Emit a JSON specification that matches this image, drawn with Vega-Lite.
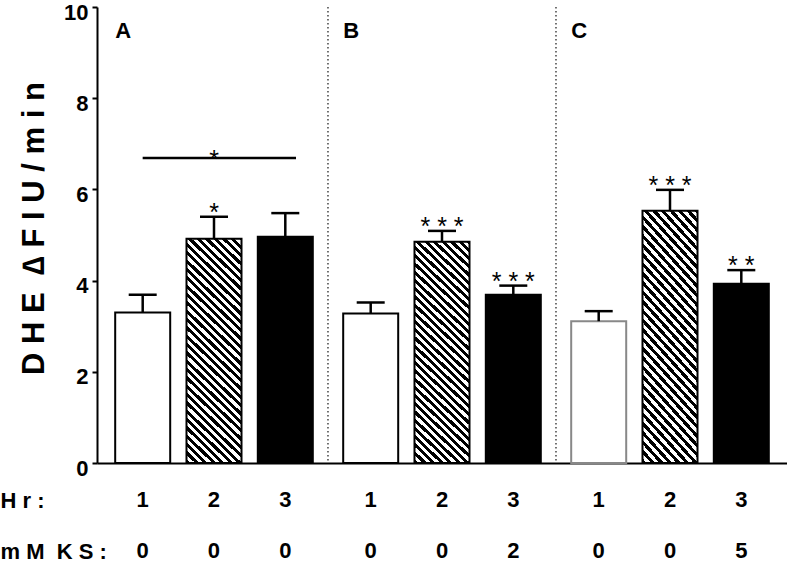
{
  "$schema": "https://vega.github.io/schema/vega-lite/v6.json",
  "width": 690,
  "height": 456,
  "autosize": "none",
  "padding": {"left": 97, "top": 7, "right": 0, "bottom": 101},
  "config": {"view": {"stroke": null}, "font": "Liberation Sans", "axis": {"grid": false}},
  "datasets": {
    "bars": [
      {"panel": "A", "hr": 1, "ks": 0, "mean": 3.30, "upper": 3.69, "sig": ""},
      {"panel": "A", "hr": 2, "ks": 0, "mean": 4.92, "upper": 5.40, "sig": "*"},
      {"panel": "A", "hr": 3, "ks": 0, "mean": 4.96, "upper": 5.48, "sig": ""},
      {"panel": "B", "hr": 1, "ks": 0, "mean": 3.28, "upper": 3.52, "sig": ""},
      {"panel": "B", "hr": 2, "ks": 0, "mean": 4.85, "upper": 5.09, "sig": "* * *"},
      {"panel": "B", "hr": 3, "ks": 2, "mean": 3.69, "upper": 3.89, "sig": "* * *"},
      {"panel": "C", "hr": 1, "ks": 0, "mean": 3.11, "upper": 3.33, "sig": ""},
      {"panel": "C", "hr": 2, "ks": 0, "mean": 5.53, "upper": 5.99, "sig": "* * *"},
      {"panel": "C", "hr": 3, "ks": 5, "mean": 3.93, "upper": 4.23, "sig": "* *"}
    ],
    "sep": [{"panel": "B"}, {"panel": "C"}],
    "bracket": [{"panel": "A", "level": 6.69, "sig": "*"}]
  },
  "encoding": {
    "x": {
      "field": "panel", "type": "nominal",
      "scale": {"paddingInner": 0.1333, "paddingOuter": 0.0798},
      "axis": {
        "title": ["H r :", "m M \u00a0K S :"],
        "labels": false, "ticks": false,
        "domainColor": "#000", "domainWidth": 2,
        "titleFont": "Liberation Sans", "titleFontSize": 22, "titleFontWeight": "bold", "titleColor": "#000",
        "titleX": -97, "titleY": 44, "titleAlign": "left", "titleAnchor": "start", "titleBaseline": "alphabetic", "titleLineHeight": 51
      }
    },
    "y": {
      "field": "mean", "type": "quantitative",
      "scale": {"domain": [0, 10], "nice": false},
      "axis": {
        "title": "D H E \u00a0∆ F I U / m i n",
        "values": [0, 2, 4, 6, 8, 10],
        "domainColor": "#000", "domainWidth": 2,
        "tickColor": "#000", "tickWidth": 2, "tickSize": 5,
        "labelFont": "Liberation Sans", "labelFontSize": 22, "labelFontWeight": "bold", "labelColor": "#000",
        "labelPadding": 4, "labelOffset": 5, "labelOverlap": false,
        "titleFont": "Liberation Sans", "titleFontSize": 31, "titleFontWeight": "bold", "titleColor": "#000",
        "titleX": -63, "titleY": 221, "titleAngle": -90, "titleBaseline": "middle", "titleAlign": "center"
      }
    }
  },
  "layer": [
    {
      "data": {"name": "sep"},
      "mark": {"type": "rule", "color": "#444", "strokeWidth": 1.5, "strokeDash": [1.5, 2.5]},
      "encoding": {"x": {"field": "panel", "type": "nominal", "bandPosition": -0.077}, "y": null}
    },
    {
      "data": {"name": "bars"},
      "transform": [{"filter": "datum.hr != 2"}],
      "mark": {"type": "bar", "strokeWidth": 2},
      "encoding": {
        "xOffset": {"field": "hr", "type": "ordinal", "scale": {"paddingInner": 0.2286, "paddingOuter": 0}},
        "fill": {"condition": {"test": "datum.hr == 1", "value": "#ffffff"}, "value": "#000000"},
        "stroke": {"condition": {"test": "datum.panel == 'C' && datum.hr == 1", "value": "#888888"}, "value": "#000000"}
      }
    },
    {
      "data": {"name": "bars"},
      "transform": [{"filter": "datum.hr == 2"}],
      "mark": {
        "type": "bar", "stroke": "#000", "strokeWidth": 2,
        "fill": {
          "gradient": "linear", "x1": 0, "y1": 1, "x2": 0.2803, "y2": -0.1721,
          "stops": [
            {"offset": 0, "color": "#000"},
            {"offset": 0.015, "color": "#000"}, {"offset": 0.015, "color": "#fff"},
            {"offset": 0.03, "color": "#fff"}, {"offset": 0.03, "color": "#000"},
            {"offset": 0.045, "color": "#000"}, {"offset": 0.045, "color": "#fff"},
            {"offset": 0.06, "color": "#fff"}, {"offset": 0.06, "color": "#000"},
            {"offset": 0.075, "color": "#000"}, {"offset": 0.075, "color": "#fff"},
            {"offset": 0.09, "color": "#fff"}, {"offset": 0.09, "color": "#000"},
            {"offset": 0.105, "color": "#000"}, {"offset": 0.105, "color": "#fff"},
            {"offset": 0.12, "color": "#fff"}, {"offset": 0.12, "color": "#000"},
            {"offset": 0.135, "color": "#000"}, {"offset": 0.135, "color": "#fff"},
            {"offset": 0.15, "color": "#fff"}, {"offset": 0.15, "color": "#000"},
            {"offset": 0.165, "color": "#000"}, {"offset": 0.165, "color": "#fff"},
            {"offset": 0.18, "color": "#fff"}, {"offset": 0.18, "color": "#000"},
            {"offset": 0.195, "color": "#000"}, {"offset": 0.195, "color": "#fff"},
            {"offset": 0.21, "color": "#fff"}, {"offset": 0.21, "color": "#000"},
            {"offset": 0.225, "color": "#000"}, {"offset": 0.225, "color": "#fff"},
            {"offset": 0.24, "color": "#fff"}, {"offset": 0.24, "color": "#000"},
            {"offset": 0.255, "color": "#000"}, {"offset": 0.255, "color": "#fff"},
            {"offset": 0.27, "color": "#fff"}, {"offset": 0.27, "color": "#000"},
            {"offset": 0.285, "color": "#000"}, {"offset": 0.285, "color": "#fff"},
            {"offset": 0.3, "color": "#fff"}, {"offset": 0.3, "color": "#000"},
            {"offset": 0.315, "color": "#000"}, {"offset": 0.315, "color": "#fff"},
            {"offset": 0.33, "color": "#fff"}, {"offset": 0.33, "color": "#000"},
            {"offset": 0.345, "color": "#000"}, {"offset": 0.345, "color": "#fff"},
            {"offset": 0.36, "color": "#fff"}, {"offset": 0.36, "color": "#000"},
            {"offset": 0.375, "color": "#000"}, {"offset": 0.375, "color": "#fff"},
            {"offset": 0.39, "color": "#fff"}, {"offset": 0.39, "color": "#000"},
            {"offset": 0.405, "color": "#000"}, {"offset": 0.405, "color": "#fff"},
            {"offset": 0.42, "color": "#fff"}, {"offset": 0.42, "color": "#000"},
            {"offset": 0.435, "color": "#000"}, {"offset": 0.435, "color": "#fff"},
            {"offset": 0.45, "color": "#fff"}, {"offset": 0.45, "color": "#000"},
            {"offset": 0.465, "color": "#000"}, {"offset": 0.465, "color": "#fff"},
            {"offset": 0.48, "color": "#fff"}, {"offset": 0.48, "color": "#000"},
            {"offset": 0.495, "color": "#000"}, {"offset": 0.495, "color": "#fff"},
            {"offset": 0.51, "color": "#fff"}, {"offset": 0.51, "color": "#000"},
            {"offset": 0.525, "color": "#000"}, {"offset": 0.525, "color": "#fff"},
            {"offset": 0.54, "color": "#fff"}, {"offset": 0.54, "color": "#000"},
            {"offset": 0.555, "color": "#000"}, {"offset": 0.555, "color": "#fff"},
            {"offset": 0.57, "color": "#fff"}, {"offset": 0.57, "color": "#000"},
            {"offset": 0.585, "color": "#000"}, {"offset": 0.585, "color": "#fff"},
            {"offset": 0.6, "color": "#fff"}, {"offset": 0.6, "color": "#000"},
            {"offset": 0.615, "color": "#000"}, {"offset": 0.615, "color": "#fff"},
            {"offset": 0.63, "color": "#fff"}, {"offset": 0.63, "color": "#000"},
            {"offset": 0.645, "color": "#000"}, {"offset": 0.645, "color": "#fff"},
            {"offset": 0.66, "color": "#fff"}, {"offset": 0.66, "color": "#000"},
            {"offset": 0.675, "color": "#000"}, {"offset": 0.675, "color": "#fff"},
            {"offset": 0.69, "color": "#fff"}, {"offset": 0.69, "color": "#000"},
            {"offset": 0.705, "color": "#000"}, {"offset": 0.705, "color": "#fff"},
            {"offset": 0.72, "color": "#fff"}, {"offset": 0.72, "color": "#000"},
            {"offset": 0.735, "color": "#000"}, {"offset": 0.735, "color": "#fff"},
            {"offset": 0.75, "color": "#fff"}, {"offset": 0.75, "color": "#000"},
            {"offset": 0.765, "color": "#000"}, {"offset": 0.765, "color": "#fff"},
            {"offset": 0.78, "color": "#fff"}, {"offset": 0.78, "color": "#000"},
            {"offset": 0.795, "color": "#000"}, {"offset": 0.795, "color": "#fff"},
            {"offset": 0.81, "color": "#fff"}, {"offset": 0.81, "color": "#000"},
            {"offset": 0.825, "color": "#000"}, {"offset": 0.825, "color": "#fff"},
            {"offset": 0.84, "color": "#fff"}, {"offset": 0.84, "color": "#000"},
            {"offset": 0.855, "color": "#000"}, {"offset": 0.855, "color": "#fff"},
            {"offset": 0.87, "color": "#fff"}, {"offset": 0.87, "color": "#000"},
            {"offset": 0.885, "color": "#000"}, {"offset": 0.885, "color": "#fff"},
            {"offset": 0.9, "color": "#fff"}, {"offset": 0.9, "color": "#000"},
            {"offset": 0.915, "color": "#000"}, {"offset": 0.915, "color": "#fff"},
            {"offset": 0.93, "color": "#fff"}, {"offset": 0.93, "color": "#000"},
            {"offset": 0.945, "color": "#000"}, {"offset": 0.945, "color": "#fff"},
            {"offset": 0.96, "color": "#fff"}, {"offset": 0.96, "color": "#000"},
            {"offset": 0.975, "color": "#000"}, {"offset": 0.975, "color": "#fff"},
            {"offset": 0.99, "color": "#fff"}, {"offset": 0.99, "color": "#000"},
            {"offset": 1, "color": "#000"}
          ]
        }
      },
      "encoding": {
        "xOffset": {"field": "hr", "type": "ordinal"}
      }
    },
    {
      "data": {"name": "bars"},
      "mark": {"type": "rule", "color": "#000", "strokeWidth": 2.5},
      "encoding": {
        "xOffset": {"field": "hr", "type": "ordinal"},
        "y": {"field": "mean", "type": "quantitative"},
        "y2": {"field": "upper"}
      }
    },
    {
      "data": {"name": "bars"},
      "mark": {"type": "tick", "orient": "horizontal", "size": 28, "thickness": 2.5, "color": "#000", "opacity": 1},
      "encoding": {
        "xOffset": {"field": "hr", "type": "ordinal"},
        "y": {"field": "upper", "type": "quantitative"}
      }
    },
    {
      "data": {"name": "bars"},
      "mark": {"type": "text", "fontSize": 25, "baseline": "alphabetic", "dy": 4, "color": "#000", "font": "Liberation Sans"},
      "encoding": {
        "xOffset": {"field": "hr", "type": "ordinal"},
        "y": {"field": "upper", "type": "quantitative"},
        "text": {"field": "sig", "type": "nominal"}
      }
    },
    {
      "data": {"name": "bars"},
      "transform": [{"filter": "datum.hr == 1"}],
      "mark": {"type": "text", "fontSize": 22, "fontWeight": "bold", "align": "left", "baseline": "middle", "color": "#000", "font": "Liberation Sans"},
      "encoding": {
        "x": {"field": "panel", "type": "nominal", "bandPosition": 0},
        "y": {"datum": 9.48},
        "text": {"field": "panel", "type": "nominal"}
      }
    },
    {
      "data": {"name": "bars"},
      "mark": {"type": "text", "fontSize": 22, "fontWeight": "bold", "baseline": "alphabetic", "color": "#000", "font": "Liberation Sans"},
      "encoding": {
        "xOffset": {"field": "hr", "type": "ordinal"},
        "y": {"datum": -0.965},
        "text": {"field": "hr", "type": "nominal"}
      }
    },
    {
      "data": {"name": "bars"},
      "mark": {"type": "text", "fontSize": 22, "fontWeight": "bold", "baseline": "alphabetic", "color": "#000", "font": "Liberation Sans"},
      "encoding": {
        "xOffset": {"field": "hr", "type": "ordinal"},
        "y": {"datum": -2.083},
        "text": {"field": "ks", "type": "nominal"}
      }
    },
    {
      "data": {"name": "bracket"},
      "mark": {"type": "rule", "color": "#000", "strokeWidth": 2.5},
      "encoding": {
        "x": {"field": "panel", "type": "nominal", "bandPosition": 0.139},
        "x2": {"field": "panel", "bandPosition": 0.915},
        "y": {"field": "level", "type": "quantitative"}
      }
    },
    {
      "data": {"name": "bracket"},
      "mark": {"type": "text", "fontSize": 25, "baseline": "alphabetic", "dy": 10, "color": "#000", "font": "Liberation Sans"},
      "encoding": {
        "y": {"field": "level", "type": "quantitative"},
        "text": {"field": "sig", "type": "nominal"}
      }
    }
  ]
}
